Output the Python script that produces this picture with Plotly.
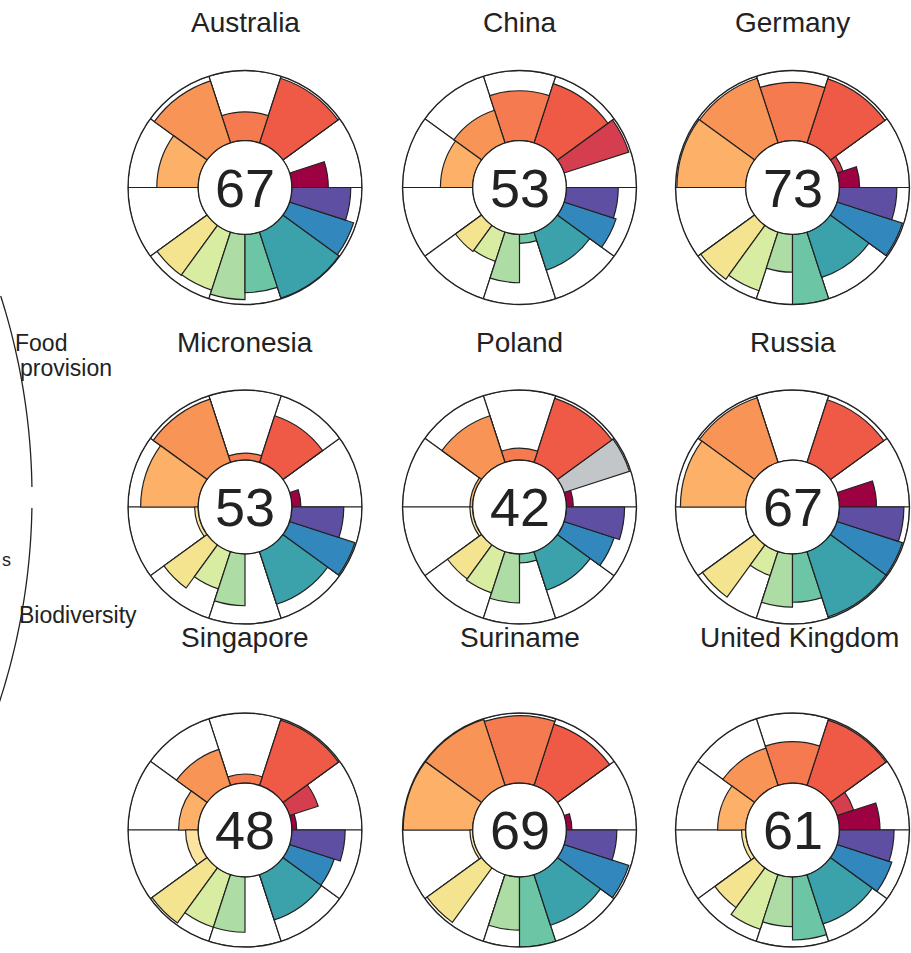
import numpy as np
import plotly.graph_objects as go

W, H = 911, 953
FONT = "Liberation Sans, Arial, Helvetica, sans-serif"
INK = "#222222"

# ---- data -------------------------------------------------------------
countries = ["Australia", "China", "Germany",
             "Micronesia", "Poland", "Russia",
             "Singapore", "Suriname", "United Kingdom"]
index_scores = [67, 53, 73, 53, 42, 67, 48, 69, 61]

# petals counter-clockwise from 3 o'clock; sub-goals carry half a goal's weight
petal_ids = ["FIS", "MAR", "AO", "NP", "CS", "CP", "TR",
             "LIV", "ECO", "ICO", "LSP", "CW", "HAB", "SPP"]
petal_weights = [0.5, 0.5, 1, 1, 1, 1, 1, 0.5, 0.5, 0.5, 0.5, 1, 0.5, 0.5]
petal_colors = ["#9E0142", "#D53E4F", "#EF5A47", "#F57A4F", "#F99457",
                "#FDB067", "#FCE3A0", "#F5E48F", "#D8EDA2", "#AEDCA5",
                "#6CC6A6", "#3BA2AC", "#3288BD", "#5E4FA2"]
na_color = "#C3C6C8"

australia = [52, 0, 97, 41, 93, 59, 0, 88, 87, 93, 83, 99, 96, 84]
china = [0, 97, 89, 71, 49, 46, 0, 46, 44, 69, 13, 57, 78, 74]
germany = [29, 9, 96, 83, 97, 98, 0, 95, 88, 54, 100, 68, 98, 82]
micronesia = [13, 0, 70, 10, 95, 82, 5, 76, 56, 74, 0, 79, 98, 74]
poland = [10, 98, 96, 17, 70, 4, 4, 60, 62, 70, 13, 58, 75, 83]
russia = [53, 0, 94, 0, 97, 93, 0, 92, 36, 76, 69, 98, 98, 92]
singapore = [7, 43, 98, 13, 54, 28, 18, 97, 79, 79, 0, 68, 67, 76]
suriname = [8, 0, 92, 96, 99, 99, 4, 96, 0, 76, 100, 76, 97, 72]
united_kingdom = [58, 25, 98, 59, 56, 40, 6, 70, 82, 71, 90, 74, 82, 78]

petal_scores = [australia, china, germany, micronesia, poland, russia,
                singapore, suriname, united_kingdom]

# goals not applicable for a country are shown in grey
not_applicable = {"Poland": ["MAR"]}

# ---- petal geometry from goal weights ----------------------------------
w = np.array(petal_weights, dtype=float)
deg = 360.0 * w / w.sum()
theta_center = np.cumsum(deg) - deg / 2

# whole-goal slots for the white background wedges
goal_deg, goal_center = [], []
i = 0
while i < len(petal_weights):
    start = theta_center[i] - deg[i] / 2
    if petal_weights[i] < 1:
        span = deg[i] + deg[i + 1]
        i += 2
    else:
        span = deg[i]
        i += 1
    goal_deg.append(span)
    goal_center.append(start + span / 2)

# ---- panel placement (pixels) ------------------------------------------
col_x = [245, 519.5, 792.5]
row_y = [187.5, 507, 830]
title_y = [22, 343, 637]
title_shift = {"United Kingdom": 7}
R = 117

fig = go.Figure()
annotations = []

for k, name in enumerate(countries):
    cx, cy = col_x[k % 3], row_y[k // 3]
    pid = "polar" if k == 0 else f"polar{k + 1}"

    # white goal wedges give the outer ring and the goal dividers
    fig.add_trace(go.Barpolar(
        r=[100] * len(goal_deg), theta=goal_center, width=goal_deg,
        marker=dict(color="white", line=dict(color=INK, width=1.2)),
        hoverinfo="skip", showlegend=False, subplot=pid))

    colors = list(petal_colors)
    for gid in not_applicable.get(name, []):
        colors[petal_ids.index(gid)] = na_color

    fig.add_trace(go.Barpolar(
        r=petal_scores[k], theta=theta_center, width=deg,
        customdata=petal_ids,
        marker=dict(color=colors, line=dict(color=INK, width=1.2)),
        hovertemplate="%{customdata}: %{r}<extra>" + name + "</extra>",
        showlegend=False, subplot=pid))

    dom = dict(x=[(cx - R) / W, (cx + R) / W],
               y=[1 - (cy + R) / H, 1 - (cy - R) / H])
    fig.layout[pid] = dict(
        domain=dom, hole=0.4, bgcolor="white", barmode="overlay",
        radialaxis=dict(visible=False, range=[0, 100]),
        angularaxis=dict(showline=True, linecolor=INK, linewidth=1.3,
                         showgrid=False, showticklabels=False, ticks="",
                         rotation=0, direction="counterclockwise"))

    annotations.append(dict(
        x=cx / W, y=1 - cy / H, xref="paper", yref="paper",
        text=str(index_scores[k]), showarrow=False,
        font=dict(family=FONT, size=54, color=INK),
        xanchor="center", yanchor="middle"))
    annotations.append(dict(
        x=(cx + title_shift.get(name, 0)) / W, y=1 - title_y[k // 3] / H,
        xref="paper", yref="paper",
        text=name, showarrow=False,
        font=dict(family=FONT, size=28, color=INK),
        xanchor="center", yanchor="middle"))

# ---- key bracket on the left -------------------------------------------
def arc_path(y0, y1, kx=-629, ky=497, kr=661, n=60):
    ys = np.linspace(y0, y1, n)
    xs = kx + np.sqrt(kr ** 2 - (ys - ky) ** 2)
    pts = [f"{x / W:.5f},{1 - y / H:.5f}" for x, y in zip(xs, ys)]
    return "M " + " L ".join(pts)

shapes = [
    dict(type="path", xref="paper", yref="paper", path=arc_path(296, 487),
         line=dict(color=INK, width=1.3)),
    dict(type="path", xref="paper", yref="paper", path=arc_path(508, 702),
         line=dict(color=INK, width=1.3)),
]

key_labels = [("Food", 13, 343), ("provision", 18, 368),
              ("Biodiversity", 17, 615)]
for txt, px, py in key_labels:
    annotations.append(dict(
        x=px / W, y=1 - py / H, xref="paper", yref="paper", text=txt,
        showarrow=False, font=dict(family=FONT, size=23, color=INK),
        xanchor="left", yanchor="middle"))

# trailing letter of a sub-goal label at the left edge
annotations.append(dict(
    x=0, y=1 - 560 / H, xref="paper", yref="paper", text="s",
    showarrow=False, font=dict(family=FONT, size=18, color=INK),
    xanchor="left", yanchor="middle"))

fig.update_layout(
    width=W, height=H, margin=dict(l=0, r=0, t=0, b=0),
    paper_bgcolor="white", plot_bgcolor="white",
    annotations=annotations, shapes=shapes, showlegend=False)

fig.write_html("out.html")
